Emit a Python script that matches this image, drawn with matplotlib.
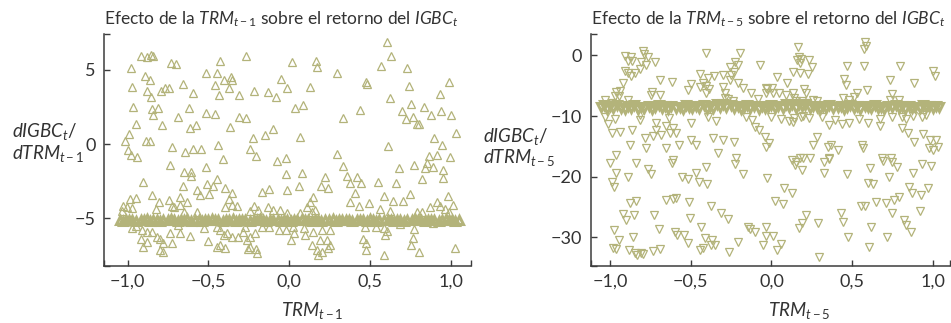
import matplotlib
matplotlib.use('Agg')
import matplotlib.pyplot as plt
from matplotlib.ticker import FuncFormatter

plt.rcParams['font.family'] = ['Lato', 'DejaVu Sans']
plt.rcParams['mathtext.fontset'] = 'custom'
plt.rcParams['mathtext.rm'] = 'Lato'
plt.rcParams['mathtext.it'] = 'Lato:italic'
plt.rcParams['mathtext.bf'] = 'Lato:bold'

MARK = '#b3b37a'
AXCOL = '#3c3c3c'

# ---- left panel: effect of TRM(t-1), scattered points ----
left_x = [-0.918, -0.881, -0.856, -0.840, -0.978, -0.894, -0.861, -0.970, -0.877, -0.855,
          -0.793, -0.768, -0.743, -0.968, -0.846, -0.809, -0.840, -0.949, -0.989, -1.017,
          -0.887, -0.861, -0.995, -0.980, -0.943, -0.785, -0.731, -0.700, -0.658, -0.596,
          -0.617, -0.687, -0.613, -0.578, -0.726, -0.642, -0.594, -0.543, -0.516, -0.429,
          -0.446, -0.460, -0.404, -0.359, -0.355, -0.373, -0.433, -0.308, -0.268, -0.217,
          -0.516, -0.458, -0.311, -0.264, -0.363, -0.438, -0.221, -0.147, -0.101, -0.128,
          -0.082, -0.051, -0.014, -0.241, -0.206,
          0.609, 0.630, 0.567, 0.729, 0.017, 0.165, 0.175, 0.299, 0.477, 0.485,
          0.130, 0.741, 0.989, 0.933, 0.623, 0.037, 0.085, 0.753, 0.836, 0.700,
          0.939, 1.001, 0.877, 0.770, 0.440, 0.332, 0.724, 0.791, 0.807, 1.032,
          0.898, 0.945, 0.068, -0.021, 0.295, 0.611, 0.866, 0.918, 0.997,
          -0.411, -0.076, -0.737, -0.514, -0.650, -0.609, -0.607, -0.448, -0.902, -0.510,
          -0.660, -0.469, -0.572, -0.551, -0.497, -0.396, -0.355, -0.850, -0.675, -0.634,
          -0.805, -0.741, -0.727, -0.712, -0.370, -0.355, -0.324, -0.985, -0.947, -1.026,
          -1.006, -0.975, -1.036, -0.824, -0.675, -0.650, -0.572, -0.396, -0.217, -0.169,
          -0.122, -0.019, -0.010, -0.097, -0.056, -0.128, -0.241, -0.190,
          -0.974, -0.947, -0.909, -0.881, -0.850, -0.915, -0.877, -0.819, -0.799, -0.778,
          -0.902, -0.799, -0.783, -0.737, -0.685, -0.675, -0.727, -0.613, -0.524, -0.503,
          -0.444, -0.427, -0.406, -0.386, -0.427, -0.396, -0.444, -0.355, -0.314, -0.283,
          -0.262, -0.241, -0.210, -0.272, -0.241, -0.204, -0.252, -0.200, -0.169, -0.122,
          -0.064, -0.017,
          0.853, 0.842, 0.894, 0.952, 0.955, 0.774, 0.683, 0.332, 0.079, 0.223,
          0.357, 0.419, 0.444, 0.378, 0.549, 0.663, 0.822, 0.064, 0.198, 0.243,
          0.409, 0.588, 0.642, 0.708, 0.749, 0.987, 0.147, 0.130, 0.161, 0.109,
          0.378, 0.433, 0.497, 0.873, 0.914, 0.935, 0.966, 1.013, 0.993, 0.563,
          0.625, -0.014, 0.068, 0.143, 0.791, 0.821,
          0.027, 0.031, 0.010, 0.099, 0.093, 0.141, 0.171, 0.182, 0.202, 0.243,
          0.254, 0.192, 0.233, 0.151, 0.202, 0.254, 0.471, 0.458, 0.477, 0.477,
          0.539, 0.590, 0.604, 0.594, 0.590, 0.687, 0.773, 0.765, 0.753, 0.807,
          0.894, 1.028]
left_y = [5.97, 5.90, 6.01, 5.95, 5.11, 4.62, 4.32, 3.87, 3.60, 3.20,
          3.58, 3.76, 3.76, 2.52, 2.34, 2.41, 1.94, 1.33, 0.68, 0.22,
          0.20, 0.22, -0.41, -0.74, -0.86, 1.28, 5.45, 5.38, 4.03, 3.47,
          2.45, 1.80, 1.10, 1.30, -0.18, -0.52, -0.32, -0.36, 4.78, 5.61,
          4.82, 3.99, 4.32, 4.51, 4.32, 3.76, 3.31, 3.31, 5.97, 3.60,
          2.07, 2.01, 1.84, 1.78, 1.17, -0.07, 0.39, 0.61, 1.03, 3.53,
          3.16, 4.39, 3.76, -0.36, -0.79,
          6.87, 5.95, 5.27, 5.16, 5.52, 5.63, 5.18, 4.77, 4.21, 4.03,
          3.83, 3.92, 4.17, 3.38, 3.09, 2.45, 2.64, 2.70, 2.48, 2.25,
          2.23, 1.98, 1.96, 1.85, 2.30, 1.74, 1.67, 1.33, 1.33, 0.72,
          0.38, -0.07, 0.49, -0.97, -0.70, -0.14, -0.79, -0.77, -0.90,
          -1.01, -1.15, -1.42, -1.58, -1.87, -1.87, -2.16, -2.39, -2.59, -2.72,
          -2.82, -2.86, -3.11, -3.45, -3.38, -2.99, -3.29, -3.45, -3.56, -3.90,
          -3.90, -3.78, -4.19, -4.23, -3.74, -4.12, -4.19, -3.74, -3.67, -4.19,
          -4.28, -4.35, -4.50, -4.41, -4.12, -4.57, -4.57, -4.23, -4.19, -3.22,
          -3.04, -2.03, -3.11, -4.46, -4.46, -4.28, -4.50, -4.46,
          -5.70, -5.54, -5.81, -5.92, -5.92, -6.44, -6.60, -6.31, -6.44, -6.67,
          -6.94, -7.16, -7.28, -6.03, -5.47, -6.03, -6.71, -6.19, -5.65, -6.53,
          -5.63, -5.81, -6.15, -5.99, -6.82, -7.05, -6.94, -6.26, -6.26, -5.92,
          -6.49, -6.26, -6.03, -5.59, -6.94, -7.12, -7.12, -7.39, -5.59, -5.59,
          -5.81, -5.81,
          -1.26, -1.64, -1.58, -1.78, -2.32, -1.42, -1.64, -1.47, -1.98, -2.25,
          -2.16, -2.25, -2.61, -2.66, -2.59, -2.66, -2.34, -2.84, -2.84, -2.95,
          -3.29, -3.49, -3.83, -3.83, -3.40, -3.51, -3.60, -3.90, -4.46, -4.23,
          -3.90, -4.17, -4.01, -4.23, -3.90, -4.19, -4.41, -4.12, -4.57, -4.41,
          -4.50, -4.64, -4.64, -4.57, -4.57, -4.57,
          -5.63, -5.99, -6.49, -6.15, -5.65, -6.82, -7.16, -7.50, -7.28, -7.05,
          -6.82, -6.49, -6.49, -5.92, -5.81, -5.81, -5.59, -6.44, -6.71, -7.16,
          -5.63, -5.70, -5.86, -6.15, -7.50, -5.41, -5.77, -6.37, -6.82, -7.27,
          -5.36, -7.05]

# dense band of overlapping points around -5.1
left_band_x = [-1.05, -1.03, -1.01, -0.99, -0.97, -0.95, -0.92, -0.90, -0.88, -0.86,
               -0.84, -0.82, -0.80, -0.78, -0.75, -0.73, -0.71, -0.69, -0.67, -0.65,
               -0.63, -0.61, -0.58, -0.56, -0.54, -0.52, -0.50, -0.48, -0.46, -0.44,
               -0.41, -0.39, -0.37, -0.35, -0.33, -0.31, -0.29, -0.27, -0.24, -0.22,
               -0.20, -0.18, -0.16, -0.14, -0.12, -0.10, -0.07, -0.05, -0.03, -0.01,
               0.01, 0.03, 0.05, 0.08, 0.10, 0.12, 0.14, 0.16, 0.18, 0.20,
               0.22, 0.25, 0.27, 0.29, 0.31, 0.33, 0.35, 0.37, 0.39, 0.42,
               0.44, 0.46, 0.48, 0.50, 0.52, 0.54, 0.56, 0.59, 0.61, 0.63,
               0.65, 0.67, 0.69, 0.71, 0.73, 0.76, 0.78, 0.80, 0.82, 0.84,
               0.86, 0.88, 0.90, 0.93, 0.95, 0.97, 0.99, 1.01, 1.03, 1.05]
left_band_y = [-5.12, -5.17, -5.10, -5.16, -5.13, -5.19, -5.11, -5.15, -5.09, -5.18,
               -5.14, -5.10, -5.17, -5.12, -5.16, -5.09, -5.15, -5.19, -5.11, -5.14,
               -5.08, -5.17, -5.13, -5.10, -5.18, -5.12, -5.15, -5.09, -5.16, -5.13,
               -5.19, -5.11, -5.14, -5.08, -5.17, -5.12, -5.15, -5.10, -5.18, -5.13,
               -5.16, -5.09, -5.14, -5.19, -5.11, -5.15, -5.12, -5.17, -5.10, -5.14,
               -5.18, -5.11, -5.15, -5.09, -5.16, -5.13, -5.19, -5.10, -5.14, -5.17,
               -5.12, -5.15, -5.09, -5.18, -5.13, -5.16, -5.11, -5.14, -5.19, -5.10,
               -5.15, -5.12, -5.17, -5.09, -5.14, -5.18, -5.11, -5.16, -5.13, -5.10,
               -5.17, -5.12, -5.15, -5.19, -5.11, -5.14, -5.09, -5.16, -5.13, -5.18,
               -5.10, -5.15, -5.12, -5.17, -5.14, -5.09, -5.16, -5.11, -5.18, -5.13]

# ---- right panel: effect of TRM(t-5), scattered points ----
right_x = [-0.909, -0.872, -0.862, -0.887, -0.796, -0.790, -0.765, -0.807, -0.780, -0.724,
           -0.905, -0.888, -0.868, -0.843, -0.816, -0.923, -0.961, -0.940, -0.970, -0.944,
           -1.033, -0.991, -0.889, -0.738, -0.748, -0.689, -0.693, -0.614, -0.408, -0.198,
           -0.070, -0.223, -0.208, -0.260, -0.235, -0.248, -0.301, -0.359, -0.394, -0.445,
           -0.425, -0.445, -0.404, -0.387, -0.408, -0.517, -0.497, -0.260, -0.301, -0.208,
           -0.285, -0.289, -0.177, -0.126, -0.085, -0.033, -0.270, -0.240,
           -1.033, -0.971, -1.012, -0.991, -0.965, -0.936, -0.878, -0.862, -0.816, -0.812,
           -0.785, -0.780, -0.734, -0.718, -0.713, -0.682, -0.656, -0.636, -0.631, -0.611,
           -0.594, -0.652, -0.573, -0.611, -0.497, -0.470, -0.497, -0.394, -0.342, -0.363,
           -0.301, -0.332, -0.235, -0.219, -0.157, -0.120, -0.101, -0.075, -0.037, -0.033,
           0.581, 0.589, 0.575, 0.167, 0.169, 0.184, 0.157, 0.177, 0.231, 0.252,
           0.132, 0.177, 0.225, 0.468, 0.575, 0.796, 1.002, 1.014, 0.035, 0.095,
           0.451, 0.465, 0.736, 0.884, 0.592, 0.528, 0.513, 0.478, 0.441, -0.029,
           0.004, 0.012, 0.049, 0.091, 0.132, 0.142, 0.204, 0.214, 0.255, -0.033,
           0.750, 0.734, 0.792, 0.150, 0.190, 0.220, 0.280,
           -0.002, 0.060, 0.111, 0.132, 0.142, 0.184, 0.194, 0.235, 0.313, 0.359,
           0.396, 0.437, 0.478, 0.540, 0.596, 0.672, 0.672, 0.746, 0.812, 0.833,
           0.878, 0.932, 0.957, 0.812, 0.849, 0.884, 0.942, 0.981, 1.019, 0.977,
           1.002, 1.030, -0.015, 0.280, 0.260, 0.348, 0.369, 0.414, 0.561, 0.569,
           0.177, 0.239, 0.688, 0.740, 0.355,
           -1.002, -0.965, -0.991, -0.977, -0.888, -0.837, -0.765, -0.745, -0.614, -0.408,
           -0.223, -0.177, -0.552, -0.517, -0.466, -0.449, -0.400, -0.878, -0.839, -0.919,
           -0.899, -0.854, -0.730, -0.655, -0.610, -0.593, -0.511, -0.503, -0.697, -0.596,
           -0.585, -0.545, -0.517, -0.977, -0.944, -0.985, -0.964, -0.884, -0.847, -0.832,
           -0.806, -0.795, -0.734, -0.688, -0.857, -0.435, -0.425, -0.441, -0.414, -0.367,
           -0.353, -0.373, -0.311, -0.270, -0.263, -0.208, -0.146, -0.131, -0.100, -0.053,
           -0.029, -0.033, -0.373,
           0.126, 0.149, 0.194, 0.190, 0.153, 0.324, 0.355, 0.328, 0.468, 0.612,
           0.689, 0.745, 0.777, 0.596, 0.631, 0.730, 0.880, 0.932, 0.987, 0.853,
           0.926, 0.973, 0.919, 0.080, 0.126, 0.019, 0.070, 0.555, 0.581, 0.651,
           0.713, 0.761, 0.792, 0.750, 0.822, 0.833, 0.864, 0.431, 0.441, 0.214,
           0.190, 0.169, 0.290, 0.616, 0.472, 0.719, 0.602, -0.033, 0.008, 0.060,
           0.033, 0.293, 0.874]
right_y = [-0.12, -0.33, -0.89, -0.89, 0.76, 0.21, -0.33, -1.05, -1.60, -1.16,
           -2.53, -2.97, -3.41, -2.86, -2.31, -4.61, -5.99, -5.83, -6.70, -6.70,
           -7.36, -7.80, -7.36, -5.99, -6.54, -6.54, -4.07, -4.35, 0.43, 0.43,
           -1.60, -1.16, -1.60, -1.87, -2.70, -3.24, -3.24, -3.41, -3.79, -3.13,
           -4.61, -5.17, -5.06, -5.61, -6.26, -5.72, -4.72, -4.07, -5.17, -4.61,
           -6.15, -6.98, -5.44, -6.15, -7.25, -5.44, -7.20, -7.50,
           -10.21, -10.54, -11.32, -12.85, -16.43, -12.58, -14.78, -12.31, -9.90, -10.65,
           -13.67, -15.32, -13.30, -12.30, -11.20, -13.10, -11.65, -10.37, -12.85, -12.03,
           -12.75, -15.32, -14.78, -17.25, -13.95, -14.78, -11.21, -10.10, -10.87, -13.67,
           -13.95, -16.15, -14.23, -16.97, -10.21, -10.65, -11.75, -12.31, -13.40, -15.05,
           2.14, 1.53, 0.98, 1.42, -0.23, -0.67, -0.78, -1.33, -0.78, -1.98,
           -2.70, -2.97, -3.08, -1.71, -1.76, -1.71, -2.53, -3.35, -3.52, -4.51,
           -3.96, -4.89, -4.07, -4.61, -5.72, -6.15, -6.81, -7.36, -7.08, -5.61,
           -5.44, -6.26, -6.26, -6.54, -6.26, -7.08, -5.61, -6.26, -7.36, -6.26,
           -6.37, -7.36, -7.36, -7.60, -7.50, -7.80, -7.60,
           -10.10, -10.54, -10.76, -10.93, -10.37, -10.21, -9.99, -10.37, -10.21, -11.48,
           -10.65, -11.32, -11.21, -10.54, -11.21, -10.54, -11.65, -10.21, -10.10, -10.54,
           -9.99, -10.21, -9.82, -12.03, -12.85, -14.23, -12.97, -13.95, -13.95, -15.32,
           -15.60, -15.05, -14.50, -13.51, -14.78, -15.05, -14.78, -15.60, -14.78, -15.32,
           -16.97, -16.86, -16.97, -16.97, -16.97,
           -17.79, -19.34, -20.82, -21.75, -20.00, -17.79, -18.78, -19.56, -17.69, -18.45,
           -17.90, -19.56, -20.00, -20.44, -19.45, -20.82, -21.20, -24.38, -23.95, -26.14,
           -27.13, -26.30, -26.30, -23.83, -23.72, -23.45, -24.11, -26.85, -28.67, -29.05,
           -29.60, -29.60, -30.98, -28.78, -30.43, -31.80, -31.90, -32.08, -32.52, -32.90,
           -32.60, -32.70, -32.20, -31.97, -29.88, -28.24, -31.80, -32.08, -30.16, -30.43,
           -31.25, -31.25, -25.93, -27.02, -32.35, -30.70, -28.34, -28.67, -29.05, -31.25,
           -20.27, -28.34, -24.90,
           -17.25, -18.07, -16.97, -18.89, -17.52, -17.52, -17.14, -19.34, -19.56, -18.62,
           -17.36, -17.52, -18.34, -20.99, -21.26, -20.11, -19.34, -17.91, -18.18, -21.64,
           -23.00, -21.80, -25.65, -21.80, -22.64, -23.95, -24.50, -24.83, -24.83, -24.11,
           -24.38, -23.83, -23.28, -26.03, -27.13, -27.96, -29.05, -26.03, -27.40, -26.30,
           -27.57, -28.50, -27.68, -28.23, -29.98, -29.98, -31.52, -29.77, -29.77, -31.08,
           -32.08, -33.17, -22.70]

right_band_x = [-1.06, -1.04, -1.02, -1.00, -0.98, -0.96, -0.93, -0.91, -0.89, -0.87,
                -0.85, -0.83, -0.81, -0.79, -0.76, -0.74, -0.72, -0.70, -0.68, -0.66,
                -0.64, -0.62, -0.59, -0.57, -0.55, -0.53, -0.51, -0.49, -0.47, -0.45,
                -0.42, -0.40, -0.38, -0.36, -0.34, -0.32, -0.30, -0.28, -0.25, -0.23,
                -0.21, -0.19, -0.17, -0.15, -0.13, -0.11, -0.08, -0.06, -0.04, -0.02,
                0.00, 0.02, 0.04, 0.07, 0.09, 0.11, 0.13, 0.15, 0.17, 0.19,
                0.21, 0.24, 0.26, 0.28, 0.30, 0.32, 0.34, 0.36, 0.38, 0.41,
                0.43, 0.45, 0.47, 0.49, 0.51, 0.53, 0.55, 0.58, 0.60, 0.62,
                0.64, 0.66, 0.68, 0.70, 0.72, 0.75, 0.77, 0.79, 0.81, 0.83,
                0.85, 0.87, 0.89, 0.92, 0.94, 0.96, 0.98, 1.00, 1.02, 1.04]
right_band_y = [-8.55, -8.20, -8.85, -8.40, -8.70, -8.25, -8.60, -8.90, -8.35, -8.65,
                -8.20, -8.80, -8.45, -8.60, -8.30, -8.85, -8.50, -8.20, -8.70, -8.40,
                -8.90, -8.30, -8.60, -8.45, -8.80, -8.25, -8.55, -8.70, -8.35, -8.60,
                -8.20, -8.85, -8.40, -8.65, -8.10, -8.55, -8.00, -8.45, -8.15, -8.60,
                -8.30, -8.80, -8.45, -8.20, -8.70, -8.40, -8.90, -8.30, -8.60, -8.45,
                -8.20, -8.75, -8.40, -8.60, -8.10, -8.50, -8.00, -8.65, -8.05, -8.40,
                -8.15, -8.70, -8.30, -8.55, -8.85, -8.35, -8.60, -8.20, -8.75, -8.45,
                -8.30, -8.85, -8.50, -8.20, -8.65, -8.40, -8.90, -8.30, -8.55, -8.70,
                -8.25, -8.60, -8.45, -8.80, -8.35, -8.55, -8.20, -8.70, -8.40, -8.85,
                -8.30, -8.60, -8.45, -8.75, -8.25, -8.55, -8.40, -8.70, -8.30, -8.50]

x_ticks = [-1.0, -0.5, 0.0, 0.5, 1.0]
left_yticks = [-5, 0, 5]
right_yticks = [-30, -20, -10, 0]


def comma_fmt(v, pos):
    return f'{v:.1f}'.replace('.', ',').replace('-', '\u2212')


def int_fmt(v, pos):
    return f'{v:.0f}'.replace('-', '\u2212')


def style_axes(ax, xlim, ylim, yticks):
    ax.set_xlim(*xlim)
    ax.set_ylim(*ylim)
    for side in ['top', 'right']:
        ax.spines[side].set_visible(False)
    for side in ['left', 'bottom']:
        ax.spines[side].set_color(AXCOL)
        ax.spines[side].set_linewidth(1.1)
    ax.set_xticks(x_ticks)
    ax.set_yticks(yticks)
    ax.set_xticks(list(xlim), minor=True)
    ax.set_yticks(list(ylim), minor=True)
    ax.xaxis.set_major_formatter(FuncFormatter(comma_fmt))
    ax.yaxis.set_major_formatter(FuncFormatter(int_fmt))
    ax.tick_params(which='both', direction='in', length=4, width=1.0, color=AXCOL,
                   labelsize=13, labelcolor='#333333')
    ax.tick_params(axis='x', pad=6)
    ax.tick_params(axis='y', pad=6)


fig = plt.figure(figsize=(9.51, 3.23), dpi=100)
ax1 = fig.add_axes([0.1094, 0.1774, 0.3859, 0.7164])
ax2 = fig.add_axes([0.6211, 0.1774, 0.3778, 0.7164])

kw = dict(linestyle='none', markerfacecolor='none', markeredgecolor=MARK,
          markersize=5.4, markeredgewidth=0.9)
# the band is hundreds of stacked markers, so it reads as a solid stripe
band_kw = dict(kw, markeredgewidth=2.2)
ax1.plot(left_band_x, left_band_y, marker='^', **band_kw)
ax1.plot(left_x, left_y, marker='^', **kw)
ax2.plot(right_band_x, right_band_y, marker='v', **band_kw)
ax2.plot(right_x, right_y, marker='v', **kw)

style_axes(ax1, (-1.146, 1.127), (-8.22, 7.41), left_yticks)
style_axes(ax2, (-1.121, 1.107), (-34.66, 3.46), right_yticks)

TXT = '#333333'
fs_title = 12.5
fs = 13.5
fig.text(0.1097, 0.9248, r'Efecto de la $\mathit{TRM}_{t-1}$ sobre el retorno del $\mathit{IGBC}_t$',
         fontsize=fs_title, color=TXT, ha='left', va='baseline')
fig.text(0.6211, 0.9248, r'Efecto de la $\mathit{TRM}_{t-5}$ sobre el retorno del $\mathit{IGBC}_t$',
         fontsize=fs_title, color=TXT, ha='left', va='baseline')

fig.text(0.0126, 0.576, r'$\mathit{dIGBC}_t$/', fontsize=fs, color=TXT, ha='left', va='baseline')
fig.text(0.0126, 0.508, r'$\mathit{dTRM}_{t-1}$', fontsize=fs, color=TXT, ha='left', va='baseline')
fig.text(0.5082, 0.560, r'$\mathit{dIGBC}_t$/', fontsize=fs, color=TXT, ha='left', va='baseline')
fig.text(0.5082, 0.495, r'$\mathit{dTRM}_{t-5}$', fontsize=fs, color=TXT, ha='left', va='baseline')

fig.text(0.296, 0.0217, r'$\mathit{TRM}_{t-1}$', fontsize=fs, color=TXT, ha='left', va='baseline')
fig.text(0.8079, 0.0217, r'$\mathit{TRM}_{t-5}$', fontsize=fs, color=TXT, ha='left', va='baseline')

fig.savefig('out.png', dpi=100)
